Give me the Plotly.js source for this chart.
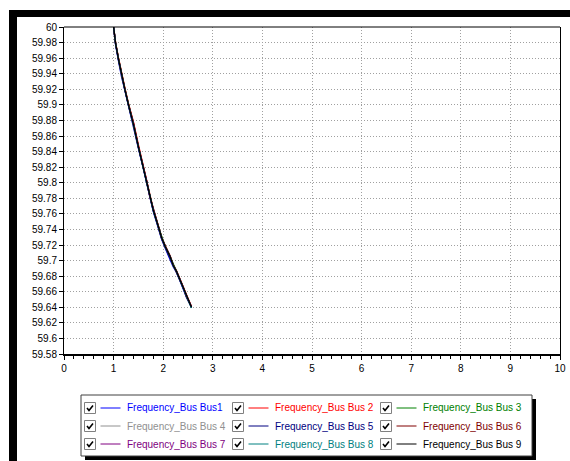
<!DOCTYPE html>
<html>
<head>
<meta charset="utf-8">
<script src="https://cdn.plot.ly/plotly-3.0.1.min.js"></script>
<style>
html,body{margin:0;padding:0;background:#ffffff;}
#chart{width:570px;height:461px;}
</style>
</head>
<body>
<div id="chart"></div>
<script>
// ---- data ----
const time = [1.00, 1.04, 1.10, 1.16, 1.23, 1.30, 1.40, 1.50, 1.60, 1.67, 1.73, 1.80, 1.90, 1.97, 2.04, 2.14, 2.20, 2.27, 2.34, 2.41, 2.47, 2.57];

const bus1 = [60.000, 59.977, 59.956, 59.936, 59.918, 59.898, 59.873, 59.844, 59.818, 59.799, 59.781, 59.763, 59.742, 59.727, 59.716, 59.702, 59.692, 59.685, 59.673, 59.663, 59.653, 59.640];
const bus2 = [60.000, 59.980, 59.960, 59.940, 59.921, 59.902, 59.878, 59.849, 59.822, 59.803, 59.784, 59.766, 59.745, 59.730, 59.719, 59.706, 59.695, 59.687, 59.676, 59.665, 59.655, 59.641];
const bus3 = [60.000, 59.979, 59.959, 59.939, 59.920, 59.901, 59.876, 59.846, 59.820, 59.801, 59.783, 59.765, 59.744, 59.730, 59.718, 59.705, 59.695, 59.686, 59.675, 59.664, 59.654, 59.640];
const bus4 = [60.000, 59.978, 59.958, 59.937, 59.919, 59.899, 59.874, 59.845, 59.819, 59.800, 59.782, 59.764, 59.743, 59.728, 59.717, 59.704, 59.693, 59.685, 59.674, 59.664, 59.653, 59.640];
const bus5 = [60.000, 59.978, 59.957, 59.937, 59.918, 59.899, 59.874, 59.845, 59.818, 59.800, 59.781, 59.764, 59.743, 59.728, 59.717, 59.703, 59.693, 59.685, 59.674, 59.663, 59.653, 59.640];
const bus6 = [60.000, 59.980, 59.959, 59.939, 59.920, 59.901, 59.877, 59.847, 59.821, 59.802, 59.783, 59.766, 59.745, 59.729, 59.719, 59.706, 59.695, 59.686, 59.676, 59.665, 59.654, 59.641];
const bus7 = [60.000, 59.979, 59.958, 59.938, 59.919, 59.900, 59.876, 59.846, 59.820, 59.801, 59.782, 59.765, 59.744, 59.729, 59.718, 59.705, 59.694, 59.686, 59.675, 59.664, 59.654, 59.640];
const bus8 = [60.000, 59.979, 59.958, 59.938, 59.919, 59.900, 59.875, 59.846, 59.819, 59.801, 59.782, 59.765, 59.744, 59.729, 59.718, 59.705, 59.694, 59.686, 59.675, 59.664, 59.654, 59.639];
const bus9 = [60.000, 59.979, 59.958, 59.938, 59.919, 59.900, 59.875, 59.846, 59.819, 59.801, 59.782, 59.765, 59.744, 59.729, 59.718, 59.705, 59.694, 59.686, 59.675, 59.664, 59.654, 59.640];

const seriesNames = ["Frequency_Bus Bus1", "Frequency_Bus Bus 2", "Frequency_Bus Bus 3",
                     "Frequency_Bus Bus 4", "Frequency_Bus Bus 5", "Frequency_Bus Bus 6",
                     "Frequency_Bus Bus 7", "Frequency_Bus Bus 8", "Frequency_Bus Bus 9"];
const seriesValues = [bus1, bus2, bus3, bus4, bus5, bus6, bus7, bus8, bus9];
const seriesColors = ["#0000ff", "#ff0000", "#008000", "#909090", "#000080", "#800000", "#800080", "#008080", "#000000"];

const yTickVals = [60, 59.98, 59.96, 59.94, 59.92, 59.9, 59.88, 59.86, 59.84, 59.82, 59.8, 59.78, 59.76, 59.74, 59.72, 59.7, 59.68, 59.66, 59.64, 59.62, 59.6, 59.58];
const yTickText = ["60", "59.98", "59.96", "59.94", "59.92", "59.9", "59.88", "59.86", "59.84", "59.82", "59.8", "59.78", "59.76", "59.74", "59.72", "59.7", "59.68", "59.66", "59.64", "59.62", "59.6", "59.58"];
const xTickVals = [0, 1, 2, 3, 4, 5, 6, 7, 8, 9, 10];

// ---- layout helpers (pixel -> paper) ----
const L = 64, T = 27, R = 560, B = 354;
const px = x => (x - L) / (R - L);
const py = y => (B - y) / (B - T);
const FONT = 'Arial, "Liberation Sans", sans-serif';

const traces = seriesValues.map((vals, i) => ({
  x: time, y: vals, type: 'scatter', mode: 'lines',
  name: seriesNames[i],
  line: {color: seriesColors[i], width: 1.3},
  showlegend: false, hoverinfo: 'skip'
}));

const shapes = [];
const annotations = [];

// outer black frame bars
shapes.push({type:'rect', xref:'paper', yref:'paper', x0:px(9), x1:px(17), y0:py(461), y1:py(10), fillcolor:'#000', line:{width:0}, layer:'below'});
shapes.push({type:'rect', xref:'paper', yref:'paper', x0:px(9), x1:px(570), y0:py(17), y1:py(10), fillcolor:'#000', line:{width:0}, layer:'below'});
// top border of plot area
shapes.push({type:'line', xref:'paper', yref:'paper', x0:0, x1:1, y0:1, y1:1, line:{color:'#000', width:1}});

// legend box with shadow
shapes.push({type:'rect', xref:'paper', yref:'paper', x0:px(85), x1:px(536), y0:py(460), y1:py(399), fillcolor:'#000', line:{width:0}});
shapes.push({type:'rect', xref:'paper', yref:'paper', x0:px(81), x1:px(532), y0:py(456), y1:py(395), fillcolor:'#fff', line:{color:'#404040', width:1}});

const rowY = [408, 426, 444];
const colX = [90, 238, 386];
seriesNames.forEach((name, i) => {
  const r = Math.floor(i / 3), c = i % 3;
  const cy = rowY[r], cx = colX[c];
  // checkbox
  shapes.push({type:'rect', xref:'paper', yref:'paper', x0:px(cx-5.5), x1:px(cx+5.5), y0:py(cy+5.5), y1:py(cy-5.5), fillcolor:'#fff', line:{color:'#808080', width:1}});
  shapes.push({type:'path', xref:'paper', yref:'paper',
    path:`M ${px(cx-3)} ${py(cy)} L ${px(cx-1)} ${py(cy+2.5)} L ${px(cx+3)} ${py(cy-2.5)}`,
    line:{color:'#000', width:1.6}});
  // line sample
  shapes.push({type:'line', xref:'paper', yref:'paper', x0:px(cx+10.5), x1:px(cx+30.5), y0:py(cy), y1:py(cy), line:{color:seriesColors[i], width:1}});
  annotations.push({xref:'paper', yref:'paper', x:px(cx+35), y:py(cy), xanchor:'left', yanchor:'middle',
    text:name, showarrow:false, font:{family:FONT, size:10, color:seriesColors[i]}});
});

const layout = {
  width: 570, height: 461,
  margin: {l: L, r: 570 - R, t: T, b: 461 - B, pad: 0},
  paper_bgcolor: 'rgba(0,0,0,0)',
  plot_bgcolor: '#ffffff',
  font: {family: FONT, size: 10, color: '#000'},
  showlegend: false,
  xaxis: {
    range: [0, 10], tickvals: xTickVals, ticks: 'outside', ticklen: 4, tickcolor: '#000',
    showline: true, linecolor: '#000', linewidth: 2, mirror: false,
    showgrid: true, gridcolor: '#a0a0a0', griddash: '1px,2px', gridwidth: 1,
    zeroline: false,
    minor: {dtick: 0.2, ticks: 'outside', ticklen: 3, tickcolor: '#000', showgrid: false},
    tickfont: {size: 10}
  },
  yaxis: {
    range: [59.58, 60], tickvals: yTickVals, ticktext: yTickText, ticks: 'outside', ticklen: 4, tickcolor: '#000',
    showline: true, linecolor: '#000', linewidth: 1, mirror: true,
    showgrid: true, gridcolor: '#a0a0a0', griddash: '1px,2px', gridwidth: 1,
    zeroline: false, tickfont: {size: 10}
  },
  shapes: shapes,
  annotations: annotations
};

Plotly.newPlot('chart', traces, layout, {staticPlot: true, displayModeBar: false});
</script>
</body>
</html>
